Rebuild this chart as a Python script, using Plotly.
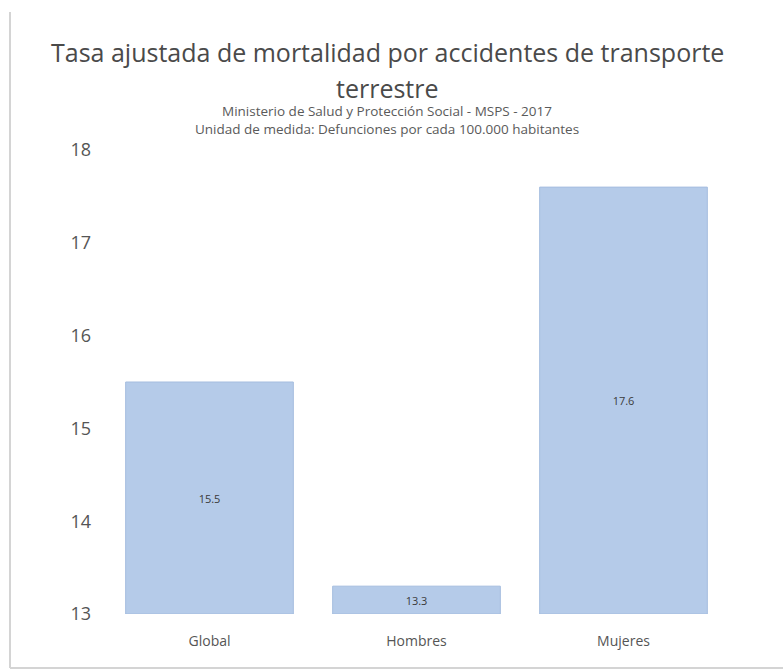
import plotly.graph_objects as go

# Tasa ajustada de mortalidad por accidentes de transporte terrestre (MSPS 2017)
categorias = ["Global", "Hombres", "Mujeres"]
tasas = [15.5, 13.3, 17.6]
etiquetas_tasa = ["15.5", "13.3", "17.6"]
ticks_y = [13, 14, 15, 16, 17, 18]
base_eje = 13

titulo_1 = "Tasa ajustada de mortalidad por accidentes de transporte"
titulo_2 = "terrestre"
subtitulo_1 = "Ministerio de Salud y Protección Social - MSPS - 2017"
subtitulo_2 = "Unidad de medida: Defunciones por cada 100.000 habitantes"

FUENTE = "Open Sans"

# las barras arrancan en la base del eje, así que su altura es tasa - base
fig = go.Figure(
    go.Bar(
        x=categorias,
        y=[t - base_eje for t in tasas],
        base=base_eje,
        text=etiquetas_tasa,
        textposition="inside",
        insidetextanchor="middle",
        textfont=dict(family=FUENTE, size=11, color="#3a3a3a"),
        marker=dict(color="#b5cbe9", line=dict(color="#a5bddf", width=1)),
        hoverinfo="skip",
    )
)

fig.update_layout(
    width=783,
    height=670,
    margin=dict(l=106, r=56, t=150, b=56),
    paper_bgcolor="white",
    plot_bgcolor="white",
    showlegend=False,
    bargap=0.19,
    font=dict(family=FUENTE, color="#555555"),
)

fig.update_xaxes(
    showgrid=False,
    showline=False,
    zeroline=False,
    ticks="",
    tickfont=dict(family=FUENTE, size=14, color="#555555"),
    ticklabelstandoff=17,
)
fig.update_yaxes(
    range=[13, 18],
    tickvals=ticks_y,
    ticktext=[str(v) for v in ticks_y],
    showgrid=False,
    showline=False,
    zeroline=False,
    ticks="",
    tickfont=dict(family=FUENTE, size=18, color="#555555"),
    ticklabelstandoff=14,
)

# títulos
textos = [
    (titulo_1, 52, 25, "#4a4a4a"),
    (titulo_2, 88, 25, "#4a4a4a"),
    (subtitulo_1, 111, 13.5, "#5a5a5a"),
    (subtitulo_2, 129, 13.5, "#5a5a5a"),
]
for texto, y_px, tam, color in textos:
    fig.add_annotation(
        text=texto,
        xref="paper",
        yref="paper",
        x=(387 - 106) / (783 - 106 - 56),
        y=1 + (150 - y_px) / (670 - 150 - 56),
        xanchor="center",
        yanchor="middle",
        showarrow=False,
        font=dict(family=FUENTE, size=tam, color=color),
    )

# marco gris del gráfico (lado izquierdo e inferior)
for x0, y0, x1, y1 in [(10, 12, 10, 668), (10, 668, 783, 668)]:
    fig.add_shape(
        type="line",
        xref="paper",
        yref="paper",
        x0=(x0 - 106) / 621,
        x1=(x1 - 106) / 621,
        y0=(614 - y0) / 464,
        y1=(614 - y1) / 464,
        line=dict(color="#d4d4d4", width=2),
        layer="below",
    )

fig.write_html("out.html")
